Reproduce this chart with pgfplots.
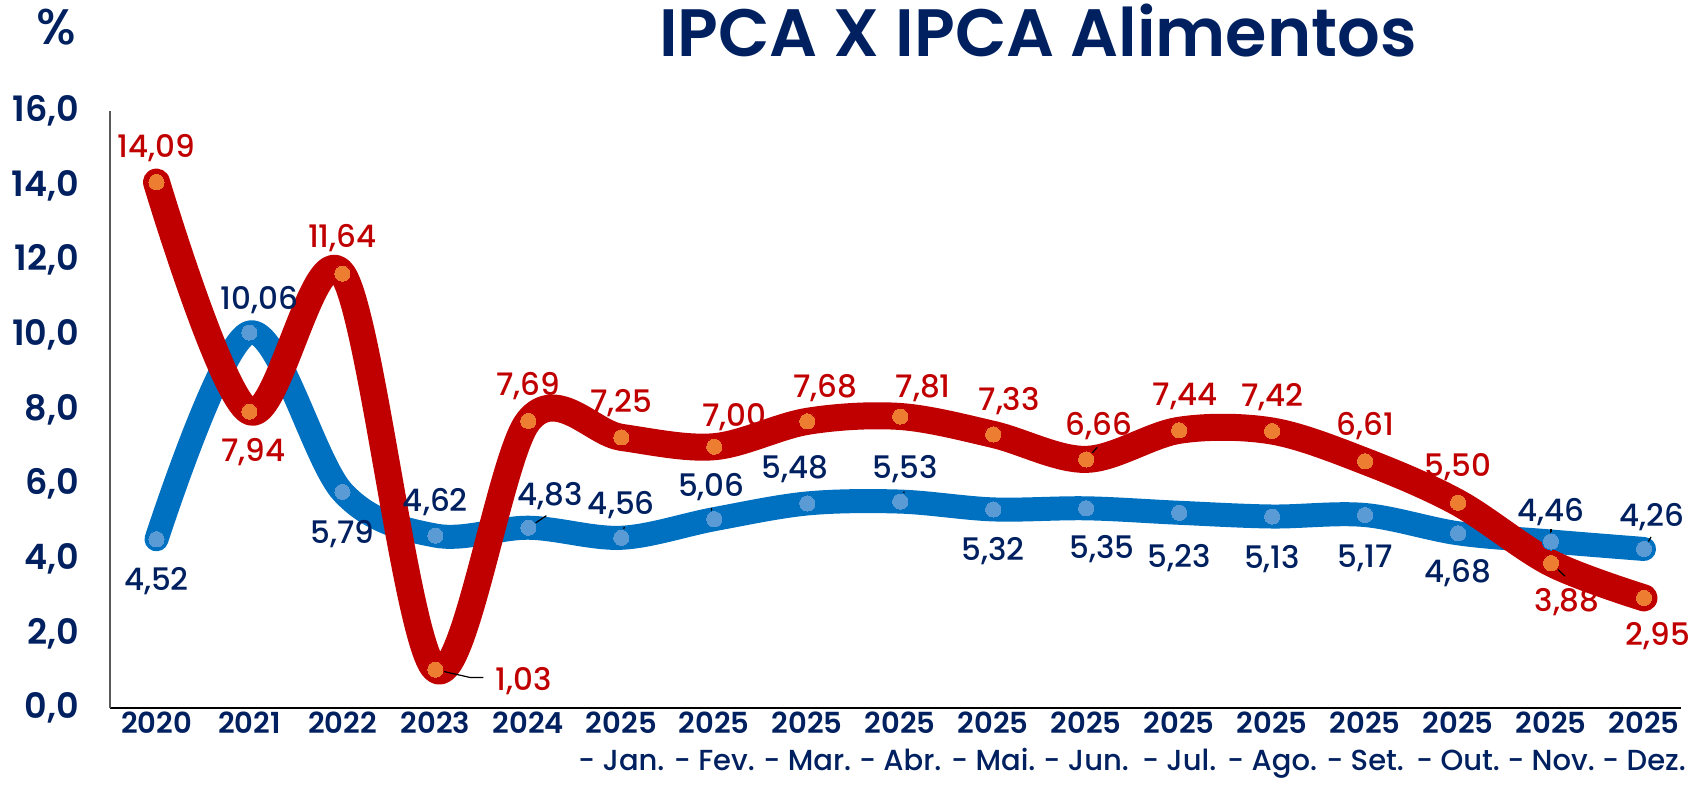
\documentclass[border=0pt]{standalone}
\usepackage{pgfplots}
\pgfplotsset{compat=1.18}
\usepackage{fontspec}
\setmainfont{Poppins}
\newfontfamily\medfont{Poppins Medium}
\newfontfamily\semifont{Poppins SemiBold}
\definecolor{navy}{HTML}{002060}
\definecolor{lblue}{HTML}{0070C0}
\definecolor{mblue}{HTML}{5B9BD5}
\definecolor{dred}{HTML}{C00000}
\definecolor{morange}{HTML}{ED7D31}
\tikzset{
  lb/.style={font=\fontsize{15.5}{18}\selectfont\medfont, text=navy, inner sep=0pt},
  lr/.style={font=\fontsize{15.5}{18}\selectfont\medfont, text=dred, inner sep=0pt},
}
\pgfplotstableread{
x ipca alim
0 4.52 14.09
1 10.06 7.94
2 5.79 11.64
3 4.62 1.03
4 4.83 7.69
5 4.56 7.25
6 5.06 7.00
7 5.48 7.68
8 5.53 7.81
9 5.32 7.33
10 5.35 6.66
11 5.23 7.44
12 5.13 7.42
13 5.17 6.61
14 4.68 5.50
15 4.46 3.88
16 4.26 2.95
}\data
\begin{document}
\begin{tikzpicture}
\useasboundingbox (-55pt,-46.5pt) rectangle (790pt,354pt);
\begin{axis}[
  at={(0,0)}, anchor=south west,
  scale only axis, width=785.6pt, height=298.6pt,
  xmin=-0.5, xmax=16.4, ymin=0, ymax=16,
  axis lines=left,
  axis line style={-},
  x axis line style={black, line width=0.9pt},
  y axis line style={black!65, line width=0.7pt},
  xtick={0,...,16}, ytick={0,2,...,16},
  major tick length=0pt,
  clip=false,
  yticklabel style={font=\fontsize{17.5}{20}\selectfont\semifont, text=navy, anchor=east, xshift=-12pt,
    /pgf/number format/.cd, fixed, fixed zerofill, precision=1, use comma, assume math mode=true},
  xticklabel style={font=\fontsize{14.5}{18.5}\selectfont\medfont, text=navy, align=center, anchor=north, yshift=1.5pt},
  xticklabels={\semifont 2020,\semifont 2021,\semifont 2022,\semifont 2023,\semifont 2024,
    {{\semifont 2025}\\- Jan.},{{\semifont 2025}\\- Fev.},{{\semifont 2025}\\- Mar.},{{\semifont 2025}\\- Abr.},
    {{\semifont 2025}\\- Mai.},{{\semifont 2025}\\- Jun.},{{\semifont 2025}\\- Jul.},{{\semifont 2025}\\- Ago.},
    {{\semifont 2025}\\- Set.},{{\semifont 2025}\\- Out.},{{\semifont 2025}\\- Nov.},{{\semifont 2025}\\- Dez.}},
]
\addplot[lblue, line width=12pt, smooth, tension=0.55, line cap=round, line join=round,
  mark=*, mark size=4.3pt, mark options={fill=mblue, draw=none, line width=0pt}] table[x=x,y=ipca] {\data};
\addplot[dred, line width=13.5pt, smooth, tension=0.55, line cap=round, line join=round,
  mark=*, mark size=4.3pt, mark options={fill=morange, draw=none, line width=0pt}] table[x=x,y=alim] {\data};

% leader lines
\draw[black, line width=0.6pt] (axis cs:4,4.83) -- ++(9pt,6pt);
\draw[black, line width=0.6pt] (axis cs:5,4.56) -- ++(1.5pt,5.5pt);
\draw[black, line width=0.6pt] (axis cs:6,5.06) -- ++(-1.5pt,5.5pt);
\draw[black, line width=0.6pt] (axis cs:8,5.53) -- ++(2pt,5pt);
\draw[black, line width=0.6pt] (axis cs:10,6.66) -- ++(5.5pt,6pt);
\draw[black, line width=0.6pt] (axis cs:15,4.46) -- ++(0pt,6.5pt);
\draw[black, line width=0.6pt] (axis cs:16,4.26) -- ++(3.5pt,6pt);
\draw[black, line width=0.6pt] (axis cs:15,3.88) -- ++(7pt,-6.5pt);
\draw[black, line width=0.6pt] (axis cs:3,1.03) -- ++(17.5pt,-4pt) -- ++(6.5pt,0pt);

% blue labels
\node[lb, xshift=0pt, yshift=-21pt] at (axis cs:0,4.52) {4,52};
\node[lb, xshift=5pt, yshift=16pt] at (axis cs:1,10.06) {10,06};
\node[lb, xshift=0pt, yshift=-21pt] at (axis cs:2,5.79) {5,79};
\node[lb, xshift=0pt, yshift=16.5pt] at (axis cs:3,4.62) {4,62};
\node[lb, xshift=11pt, yshift=16pt] at (axis cs:4,4.83) {4,83};
\node[lb, xshift=0pt, yshift=16.5pt] at (axis cs:5,4.56) {4,56};
\node[lb, xshift=-1.5pt, yshift=16pt] at (axis cs:6,5.06) {5,06};
\node[lb, xshift=-6pt, yshift=17pt] at (axis cs:7,5.48) {5,48};
\node[lb, xshift=2.5pt, yshift=16pt] at (axis cs:8,5.53) {5,53};
\node[lb, xshift=0pt, yshift=-21pt] at (axis cs:9,5.32) {5,32};
\node[lb, xshift=8pt, yshift=-20.5pt] at (axis cs:10,5.35) {5,35};
\node[lb, xshift=0pt, yshift=-22.5pt] at (axis cs:11,5.23) {5,23};
\node[lb, xshift=0pt, yshift=-21.5pt] at (axis cs:12,5.13) {5,13};
\node[lb, xshift=0pt, yshift=-21.5pt] at (axis cs:13,5.17) {5,17};
\node[lb, xshift=0pt, yshift=-20pt] at (axis cs:14,4.68) {4,68};
\node[lb, xshift=0pt, yshift=14.5pt] at (axis cs:15,4.46) {4,46};
\node[lb, xshift=4pt, yshift=16pt] at (axis cs:16,4.26) {4,26};

% red labels
\node[lr, xshift=0pt, yshift=17pt] at (axis cs:0,14.09) {14,09};
\node[lr, xshift=2pt, yshift=-20pt] at (axis cs:1,7.94) {7,94};
\node[lr, xshift=0pt, yshift=17.5pt] at (axis cs:2,11.64) {11,64};
\node[lr, xshift=44pt, yshift=-6pt] at (axis cs:3,1.03) {1,03};
\node[lr, xshift=0pt, yshift=17.5pt] at (axis cs:4,7.69) {7,69};
\node[lr, xshift=0pt, yshift=17pt] at (axis cs:5,7.25) {7,25};
\node[lr, xshift=10pt, yshift=15pt] at (axis cs:6,7.00) {7,00};
\node[lr, xshift=9pt, yshift=16.5pt] at (axis cs:7,7.68) {7,68};
\node[lr, xshift=11.5pt, yshift=14pt] at (axis cs:8,7.81) {7,81};
\node[lr, xshift=8pt, yshift=16.5pt] at (axis cs:9,7.33) {7,33};
\node[lr, xshift=6.5pt, yshift=16.5pt] at (axis cs:10,6.66) {6,66};
\node[lr, xshift=3pt, yshift=17pt] at (axis cs:11,7.44) {7,44};
\node[lr, xshift=0pt, yshift=17pt] at (axis cs:12,7.42) {7,42};
\node[lr, xshift=0pt, yshift=17.5pt] at (axis cs:13,6.61) {6,61};
\node[lr, xshift=0pt, yshift=18pt] at (axis cs:14,5.50) {5,50};
\node[lr, xshift=8pt, yshift=-19.5pt] at (axis cs:15,3.88) {3,88};
\node[lr, xshift=7pt, yshift=-19pt] at (axis cs:16,2.95) {2,95};
\end{axis}
\node[anchor=base, text=navy, font=\fontsize{33.5}{40}\selectfont\semifont, inner sep=0pt] at (464pt,325.5pt) {IPCA X IPCA Alimentos};
\node[anchor=base, text=navy, font=\fontsize{25}{28}\selectfont\medfont, inner sep=0pt] at (-27pt,331.5pt) {\%};
\end{tikzpicture}
\end{document}
